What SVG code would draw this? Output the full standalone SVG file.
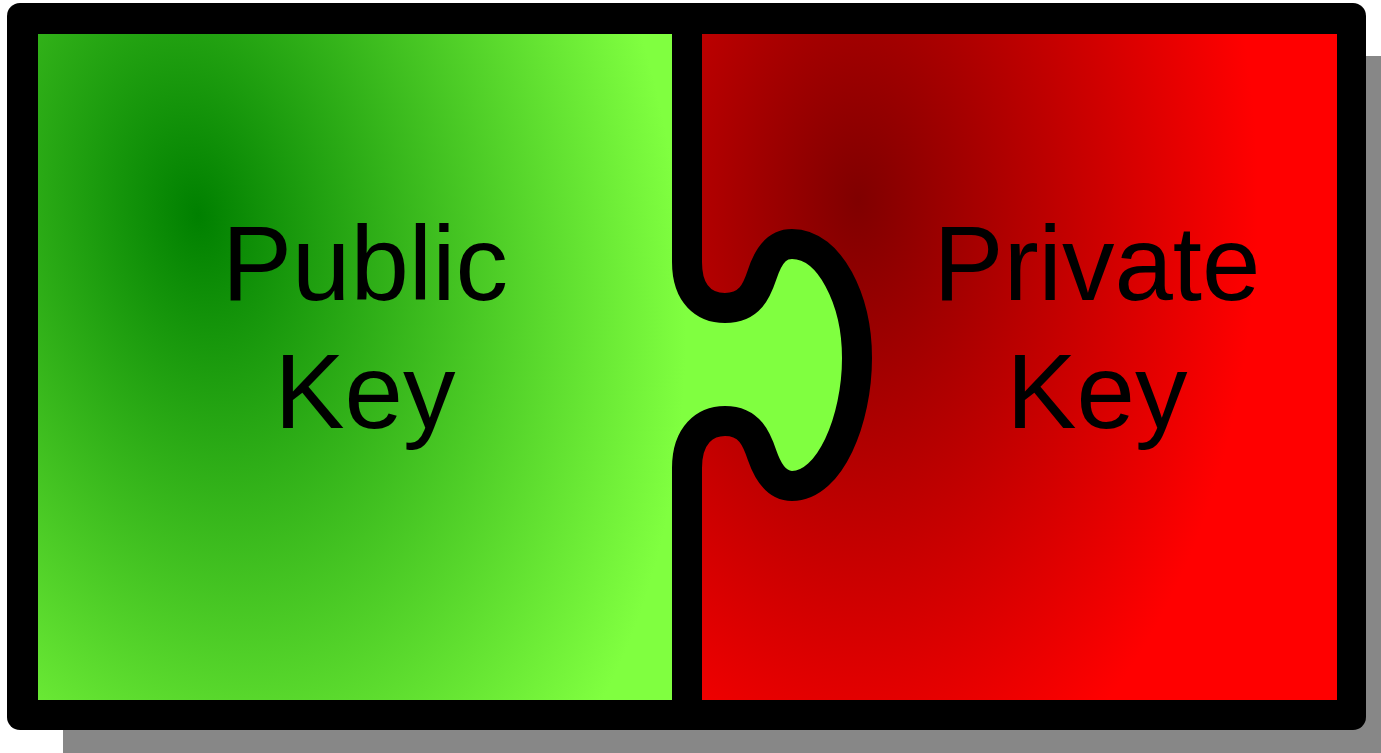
<svg xmlns="http://www.w3.org/2000/svg" width="1381" height="753" viewBox="0 0 1381 753">
<style>
.lbl{font-family:"Liberation Sans",Arial,sans-serif;font-size:105px;fill:#000;text-anchor:middle}
.outline{fill:none;stroke:#000;stroke-width:30;stroke-linejoin:round}
</style>
<defs>
<radialGradient id="gGreen" gradientUnits="userSpaceOnUse" cx="198" cy="215" r="475" gradientTransform="translate(198 215) rotate(-12) scale(1 1.5) translate(-198 -215)">
<stop offset="0" stop-color="#008000"/>
<stop offset="1" stop-color="#80ff40"/>
</radialGradient>
<radialGradient id="gRed" gradientUnits="userSpaceOnUse" cx="858" cy="200" r="400" gradientTransform="translate(858 200) scale(1 1.6) translate(-858 -200)">
<stop offset="0" stop-color="#800000"/>
<stop offset="1" stop-color="#ff0000"/>
</radialGradient>
</defs>
<rect x="63" y="56" width="1330" height="710" fill="#878787"/>
<rect x="7" y="3" width="1359" height="727" rx="13" fill="#000"/>
<g id="private-key">
<rect x="687" y="34" width="650" height="666" fill="url(#gRed)"/>
<text class="lbl" x="1097" y="300">Private</text>
<text class="lbl" x="1097" y="428">Key</text>
</g>
<g id="public-key">
<rect x="38" y="34" width="649" height="666" fill="url(#gGreen)"/>
<path d="M687,262 C687,295 705,308 725,308 C750,308 757,290 762,275 C770,250 780,244 792,244 C830,244 857,300 857,358 C857,420 830,486 792,486 C780,486 770,478 762,455 C757,440 750,421 725,421 C705,421 687,435 687,468 Z" fill="#80ff40"/>
<text class="lbl" x="365" y="300">Public</text>
<text class="lbl" x="365" y="428">Key</text>
</g>
<g id="connectors">
<path class="outline" d="M687,20 V262 C687,295 705,308 725,308 C750,308 757,290 762,275 C770,250 780,244 792,244 C830,244 857,300 857,358 C857,420 830,486 792,486 C780,486 770,478 762,455 C757,440 750,421 725,421 C705,421 687,435 687,468 V714"/>
</g>
</svg>
